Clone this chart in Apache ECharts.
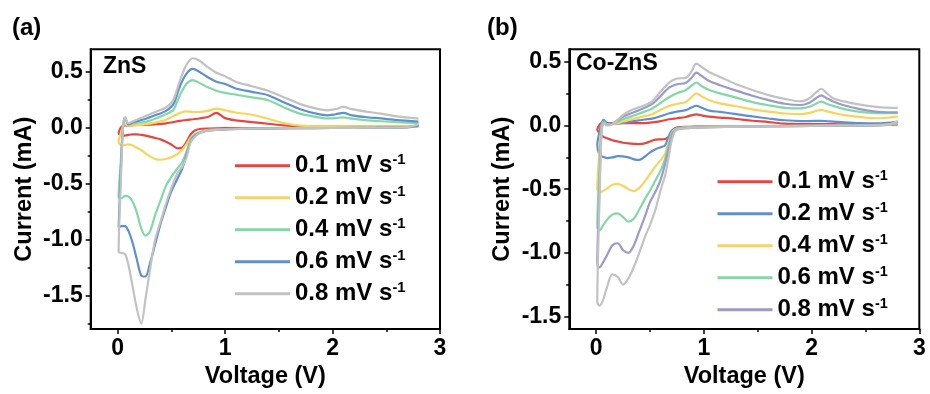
<!DOCTYPE html>
<html>
<head>
<meta charset="utf-8">
<script src="https://cdn.jsdelivr.net/npm/echarts@6/dist/echarts.min.js"></script>
<style>html,body{margin:0;padding:0;background:#fff;}#c{width:930px;height:394px;}</style>
</head>
<body>
<div id="c"></div>
<script>
// ---------- Panel (a): ZnS ----------
const SPEEDS_A = ['0.1', '0.2', '0.4', '0.6', '0.8'];
const VA_cath = [2.8, 2.7, 2.4, 2.0, 1.6, 1.2, 1.0, 0.85, 0.78, 0.72, 0.68, 0.64, 0.6, 0.56, 0.5, 0.45, 0.4, 0.35, 0.3, 0.26, 0.22, 0.18, 0.14, 0.1, 0.07, 0.04, 0.01];
const VA_an = [0.01, 0.03, 0.05, 0.07, 0.1, 0.15, 0.25, 0.35, 0.45, 0.52, 0.58, 0.64, 0.7, 0.76, 0.84, 0.92, 1.0, 1.1, 1.25, 1.4, 1.55, 1.7, 1.85, 1.95, 2.03, 2.1, 2.18, 2.3, 2.45, 2.6, 2.8];

const A01_cath = [0.01, 0.005, 0.002, 0.0, -0.002, -0.004, -0.005, -0.008, -0.01, -0.025, -0.06, -0.13, -0.18, -0.185, -0.15, -0.125, -0.105, -0.092, -0.08, -0.072, -0.065, -0.06, -0.06, -0.065, -0.07, -0.075, -0.05];
const A01_an = [-0.05, 0.0, 0.015, 0.02, 0.02, 0.022, 0.025, 0.03, 0.038, 0.05, 0.06, 0.068, 0.075, 0.082, 0.095, 0.132, 0.085, 0.065, 0.05, 0.035, 0.02, 0.012, 0.01, 0.01, 0.01, 0.01, 0.01, 0.01, 0.01, 0.01, 0.01];
const A02_cath = [0.012, 0.005, 0.0, -0.002, -0.004, -0.008, -0.012, -0.02, -0.035, -0.06, -0.09, -0.15, -0.2, -0.235, -0.265, -0.28, -0.287, -0.28, -0.255, -0.23, -0.2, -0.18, -0.16, -0.15, -0.155, -0.16, -0.13];
const A02_an = [-0.13, -0.05, 0.01, 0.03, 0.02, 0.022, 0.03, 0.045, 0.07, 0.105, 0.13, 0.145, 0.14, 0.14, 0.15, 0.17, 0.155, 0.135, 0.115, 0.08, 0.04, 0.018, 0.012, 0.012, 0.012, 0.013, 0.012, 0.012, 0.012, 0.012, 0.015];
const A04_cath = [0.015, 0.005, 0.0, -0.003, -0.005, -0.01, -0.015, -0.025, -0.04, -0.06, -0.11, -0.22, -0.31, -0.36, -0.44, -0.52, -0.65, -0.78, -0.93, -0.965, -0.9, -0.76, -0.66, -0.615, -0.61, -0.63, -0.62];
const A04_an = [-0.62, -0.3, 0.0, 0.09, 0.03, 0.04, 0.05, 0.08, 0.12, 0.16, 0.29, 0.39, 0.425, 0.40, 0.36, 0.33, 0.31, 0.295, 0.27, 0.245, 0.18, 0.125, 0.095, 0.083, 0.085, 0.092, 0.08, 0.068, 0.057, 0.048, 0.04];
const A06_cath = [0.02, 0.005, 0.0, -0.003, -0.005, -0.01, -0.015, -0.025, -0.04, -0.07, -0.12, -0.25, -0.37, -0.45, -0.57, -0.71, -0.86, -1.04, -1.22, -1.33, -1.32, -1.18, -1.03, -0.92, -0.88, -0.88, -0.89];
const A06_an = [-0.89, -0.4, 0.0, 0.09, 0.03, 0.05, 0.075, 0.11, 0.15, 0.21, 0.37, 0.48, 0.525, 0.50, 0.45, 0.41, 0.39, 0.35, 0.32, 0.29, 0.225, 0.165, 0.125, 0.11, 0.12, 0.132, 0.11, 0.095, 0.082, 0.068, 0.055];
const A08_cath = [0.03, 0.005, 0.0, -0.003, -0.005, -0.01, -0.015, -0.025, -0.04, -0.08, -0.13, -0.27, -0.35, -0.40, -0.54, -0.68, -0.84, -1.0, -1.28, -1.53, -1.75, -1.62, -1.42, -1.22, -1.13, -1.12, -1.11];
const A08_an = [-1.11, -0.5, 0.0, 0.09, 0.04, 0.06, 0.10, 0.14, 0.18, 0.25, 0.42, 0.56, 0.62, 0.60, 0.54, 0.49, 0.46, 0.41, 0.37, 0.33, 0.27, 0.21, 0.17, 0.155, 0.165, 0.185, 0.165, 0.145, 0.125, 0.10, 0.08];

// ---------- Panel (b): Co-ZnS ----------
const SPEEDS_B = ['0.1', '0.2', '0.4', '0.6', '0.8'];
const VB_cath = [2.8, 2.7, 2.4, 2.0, 1.6, 1.2, 1.0, 0.85, 0.78, 0.73, 0.7, 0.67, 0.64, 0.6, 0.55, 0.5, 0.45, 0.4, 0.35, 0.3, 0.25, 0.2, 0.15, 0.1, 0.06, 0.03, 0.01];
const VB_an = [0.01, 0.03, 0.05, 0.07, 0.1, 0.15, 0.25, 0.35, 0.45, 0.52, 0.6, 0.68, 0.75, 0.83, 0.88, 0.93, 0.98, 1.05, 1.15, 1.3, 1.45, 1.6, 1.75, 1.9, 1.98, 2.04, 2.09, 2.14, 2.2, 2.3, 2.45, 2.6, 2.7, 2.8];

const B01_cath = [0.01, 0.005, 0.002, 0.0, -0.003, -0.005, -0.007, -0.01, -0.012, -0.02, -0.05, -0.09, -0.105, -0.108, -0.11, -0.125, -0.14, -0.145, -0.143, -0.14, -0.135, -0.125, -0.115, -0.1, -0.085, -0.06, -0.03];
const B01_an = [-0.03, 0.005, 0.02, 0.025, 0.02, 0.019, 0.019, 0.019, 0.02, 0.025, 0.035, 0.05, 0.058, 0.068, 0.08, 0.089, 0.08, 0.07, 0.063, 0.052, 0.038, 0.028, 0.015, 0.012, 0.012, 0.012, 0.012, 0.011, 0.011, 0.01, 0.01, 0.01, 0.01, 0.01];
const B02_cath = [0.015, 0.005, 0.002, 0.0, -0.003, -0.006, -0.008, -0.012, -0.015, -0.025, -0.04, -0.09, -0.155, -0.17, -0.185, -0.21, -0.245, -0.27, -0.265, -0.25, -0.242, -0.24, -0.25, -0.255, -0.245, -0.23, -0.15];
const B02_an = [-0.15, -0.05, 0.02, 0.045, 0.02, 0.015, 0.022, 0.035, 0.048, 0.055, 0.075, 0.097, 0.11, 0.122, 0.14, 0.156, 0.14, 0.118, 0.108, 0.09, 0.072, 0.056, 0.042, 0.036, 0.036, 0.037, 0.038, 0.035, 0.032, 0.026, 0.02, 0.018, 0.022, 0.03];
const B04_cath = [0.02, 0.006, 0.002, -0.001, -0.004, -0.007, -0.01, -0.014, -0.02, -0.03, -0.06, -0.14, -0.22, -0.27, -0.32, -0.38, -0.44, -0.49, -0.515, -0.5, -0.475, -0.458, -0.465, -0.495, -0.515, -0.525, -0.5];
const B04_an = [-0.5, -0.2, 0.0, 0.03, 0.01, 0.012, 0.032, 0.055, 0.075, 0.09, 0.125, 0.155, 0.17, 0.185, 0.22, 0.253, 0.23, 0.2, 0.175, 0.152, 0.128, 0.11, 0.095, 0.09, 0.1, 0.115, 0.123, 0.112, 0.1, 0.082, 0.068, 0.058, 0.062, 0.07];
const B06_cath = [0.025, 0.007, 0.002, -0.002, -0.005, -0.008, -0.012, -0.017, -0.022, -0.035, -0.07, -0.16, -0.26, -0.35, -0.43, -0.51, -0.58, -0.66, -0.73, -0.755, -0.72, -0.69, -0.70, -0.74, -0.79, -0.825, -0.8];
const B06_an = [-0.8, -0.35, -0.02, 0.03, 0.005, 0.015, 0.05, 0.08, 0.11, 0.135, 0.18, 0.225, 0.255, 0.278, 0.31, 0.339, 0.31, 0.28, 0.253, 0.22, 0.185, 0.16, 0.14, 0.136, 0.148, 0.172, 0.188, 0.172, 0.155, 0.13, 0.108, 0.098, 0.097, 0.097];
const B08_cath = [0.03, 0.008, 0.002, -0.002, -0.006, -0.01, -0.014, -0.02, -0.025, -0.04, -0.08, -0.19, -0.3, -0.42, -0.52, -0.6, -0.72, -0.83, -0.94, -1.0, -0.98, -0.925, -0.94, -1.02, -1.08, -1.115, -1.09];
const B08_an = [-1.09, -0.5, -0.03, 0.025, 0.005, 0.015, 0.07, 0.105, 0.14, 0.17, 0.235, 0.3, 0.325, 0.335, 0.37, 0.417, 0.39, 0.35, 0.318, 0.275, 0.235, 0.2, 0.172, 0.162, 0.18, 0.215, 0.238, 0.215, 0.19, 0.16, 0.13, 0.11, 0.105, 0.104];
const B10_cath = [0.035, 0.008, 0.002, -0.002, -0.006, -0.01, -0.014, -0.02, -0.025, -0.045, -0.12, -0.26, -0.39, -0.5, -0.66, -0.78, -0.88, -1.0, -1.11, -1.2, -1.25, -1.19, -1.17, -1.27, -1.38, -1.415, -1.39];
const B10_an = [-1.39, -0.6, -0.05, 0.02, 0.0, 0.01, 0.085, 0.13, 0.16, 0.19, 0.27, 0.34, 0.37, 0.375, 0.42, 0.487, 0.46, 0.42, 0.383, 0.325, 0.28, 0.24, 0.21, 0.19, 0.215, 0.26, 0.29, 0.255, 0.215, 0.19, 0.165, 0.148, 0.142, 0.14];

// ---------- Ticks ----------
const X_MAJOR = [0, 1, 2, 3];
const X_MINOR = [0.5, 1.5, 2.5];
const YA_MAJOR = [-1.5, -1.0, -0.5, 0.0, 0.5];
const YA_MINOR = [-1.75, -1.25, -0.75, -0.25, 0.25];
const YB_MAJOR = [-1.5, -1.0, -0.5, 0.0, 0.5];
const YB_MINOR = [-1.25, -0.75, -0.25, 0.25];

const RED = '#E8453F', YEL = '#F8D45C', GRN = '#82D9A5', BLU = '#5E90D0', GRY = '#C2C2C2', PUR = '#9B9BCB';
const FONT = 'Liberation Sans, Arial, sans-serif';

function loop(vc, ic, va, ia) {
  return vc.map((v, i) => [v, ic[i]]).concat(va.map((v, i) => [v, ia[i]]));
}

function xAxes(grid) {
  return [
    { type: 'value', gridIndex: grid, min: -0.25, max: 3, position: 'bottom',
      axisLine: { show: true, onZero: false, lineStyle: { color: '#000', width: 2 } },
      axisTick: { show: true, inside: false, length: 5, customValues: X_MAJOR, lineStyle: { color: '#000', width: 1.5 } },
      axisLabel: { show: true, customValues: X_MAJOR, margin: 8, fontSize: 23, fontWeight: 'bold', color: '#000', fontFamily: FONT },
      splitLine: { show: false },
      name: 'Voltage (V)', nameLocation: 'middle', nameGap: 35,
      nameTextStyle: { fontSize: 23.5, fontWeight: 'bold', color: '#000', fontFamily: FONT } },
    { type: 'value', gridIndex: grid, min: -0.25, max: 3, position: 'bottom',
      axisLine: { show: false, onZero: false },
      axisTick: { show: true, inside: false, length: 3, customValues: X_MINOR, lineStyle: { color: '#000', width: 1.5 } },
      axisLabel: { show: false }, splitLine: { show: false } }
  ];
}
function yAxes(grid, mn, mx, major, minor, gap) {
  return [
    { type: 'value', gridIndex: grid, min: mn, max: mx, position: 'left',
      axisLine: { show: true, onZero: false, lineStyle: { color: '#000', width: 2 } },
      axisTick: { show: true, inside: false, length: 5, customValues: major, lineStyle: { color: '#000', width: 1.5 } },
      axisLabel: { show: true, customValues: major, margin: 8, fontSize: 23, fontWeight: 'bold', color: '#000', fontFamily: FONT,
        formatter: v => Number(v).toFixed(1) },
      splitLine: { show: false },
      name: 'Current (mA)', nameLocation: 'middle', nameGap: gap,
      nameTextStyle: { fontSize: 23.5, fontWeight: 'bold', color: '#000', fontFamily: FONT } },
    { type: 'value', gridIndex: grid, min: mn, max: mx, position: 'left',
      axisLine: { show: false, onZero: false },
      axisTick: { show: true, inside: false, length: 3, customValues: minor, lineStyle: { color: '#000', width: 1.5 } },
      axisLabel: { show: false }, splitLine: { show: false } }
  ];
}

function line(name, color, data, xi, yi) {
  return { name: name, type: 'line', xAxisIndex: xi, yAxisIndex: yi, data: data,
    showSymbol: false, symbol: 'none', smooth: 0.3, animation: false,
    lineStyle: { color: color, width: 2.2 }, itemStyle: { color: color } };
}

const series = [
  line('a0.1', RED, loop(VA_cath, A01_cath, VA_an, A01_an), 0, 0),
  line('a0.2', YEL, loop(VA_cath, A02_cath, VA_an, A02_an), 0, 0),
  line('a0.4', GRN, loop(VA_cath, A04_cath, VA_an, A04_an), 0, 0),
  line('a0.6', BLU, loop(VA_cath, A06_cath, VA_an, A06_an), 0, 0),
  line('a0.8', GRY, loop(VA_cath, A08_cath, VA_an, A08_an), 0, 0),
  line('b0.1', RED, loop(VB_cath, B01_cath, VB_an, B01_an), 2, 2),
  line('b0.2', BLU, loop(VB_cath, B02_cath, VB_an, B02_an), 2, 2),
  line('b0.4', YEL, loop(VB_cath, B04_cath, VB_an, B04_an), 2, 2),
  line('b0.6', GRN, loop(VB_cath, B06_cath, VB_an, B06_an), 2, 2),
  line('b0.8', PUR, loop(VB_cath, B08_cath, VB_an, B08_an), 2, 2),
  line('b1.0', GRY, loop(VB_cath, B10_cath, VB_an, B10_an), 2, 2)
];

const rich = {
  t: { fontSize: 24, fontWeight: 'bold', color: '#000', fontFamily: FONT, lineHeight: 26 },
  s: { fontSize: 14.5, fontWeight: 'bold', color: '#000', fontFamily: FONT, lineHeight: 14, verticalAlign: 'top' }
};
function legend(names, left, top) {
  return { data: names.map(n => ({ name: n, icon: 'rect' })), orient: 'vertical', left: left, top: top,
    itemWidth: 55, itemHeight: 3, itemGap: 7,
    selectedMode: false, padding: 0,
    formatter: n => '{t|' + n.slice(1) + ' mV s}{s|-1}',
    textStyle: { rich: rich } };
}

const chart = echarts.init(document.getElementById('c'), null, { renderer: 'canvas' });
chart.setOption({
  backgroundColor: '#fff',
  animation: false,
  grid: [
    { left: 90.7, top: 49.3, right: 490, bottom: 64, show: true, borderColor: '#000', borderWidth: 2, backgroundColor: 'transparent' },
    { left: 569.3, top: 49.3, right: 10.7, bottom: 63.3, show: true, borderColor: '#000', borderWidth: 2, backgroundColor: 'transparent' }
  ],
  xAxis: xAxes(0).concat(xAxes(1)),
  yAxis: yAxes(0, -1.8, 0.7, YA_MAJOR, YA_MINOR, 54).concat(yAxes(1, -1.6, 0.6, YB_MAJOR, YB_MINOR, 55)),
  legend: [
    legend(SPEEDS_A.map(s => 'a' + s), 235, 152.7),
    legend(SPEEDS_B.map(s => 'b' + s), 717.5, 168.7)
  ],
  graphic: [
    { type: 'text', left: 12, top: 16, style: { text: '(a)', font: 'bold 24px ' + FONT, fill: '#000' } },
    { type: 'text', left: 487, top: 16, style: { text: '(b)', font: 'bold 24px ' + FONT, fill: '#000' } },
    { type: 'text', left: 103, top: 55, style: { text: 'ZnS', font: 'bold 23px ' + FONT, fill: '#000' } },
    { type: 'text', left: 576, top: 52, style: { text: 'Co-ZnS', font: 'bold 23px ' + FONT, fill: '#000' } }
  ],
  series: series
});
</script>
</body>
</html>
